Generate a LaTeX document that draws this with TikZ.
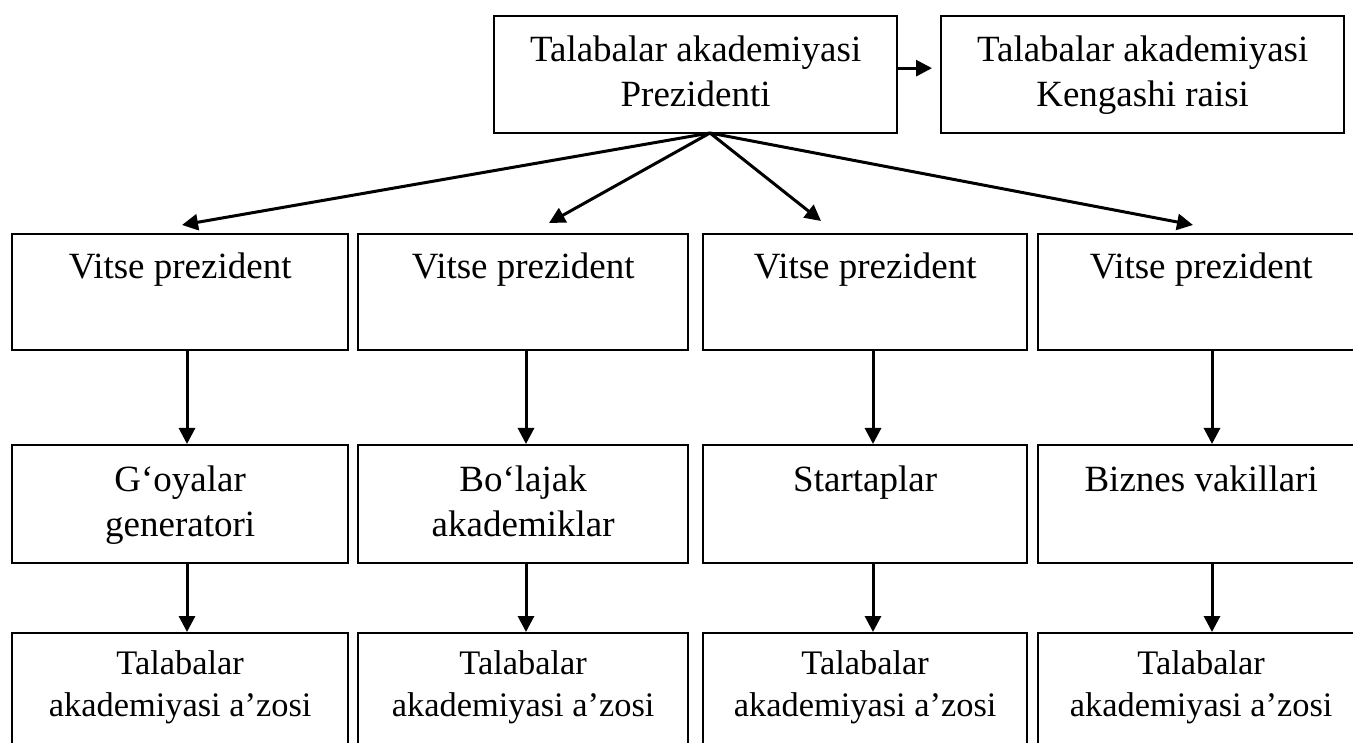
\documentclass[tikz,border=0pt]{standalone}
\usepackage{fontspec}
\setmainfont{Liberation Serif}
\usetikzlibrary{arrows.meta}
\tikzset{
  box/.style={draw, line width=2.3pt, inner sep=0pt, anchor=north west},
  arr/.style={line width=3pt, -{Triangle[length=16pt,width=16pt]}},
  big/.style={font=\fontsize{37}{45}\selectfont},
  small/.style={font=\fontsize{34.4}{42.5}\selectfont},
}
\newcommand\bxn[8]{\node[box,#8] (#1) at (#2,#3) {\parbox[t][#5pt][t]{#4pt}{\centering\rule{0pt}{#6pt}#7}};}
\begin{document}
\begin{tikzpicture}[x=1pt,y=-1pt]
\useasboundingbox (0,0) rectangle (1353,743);
% top
\bxn{P}{493}{15}{403}{117}{45}{Talabalar akademiyasi\\Prezidenti}{big}
\bxn{K}{940}{15}{403}{117}{45}{Talabalar akademiyasi\\Kengashi raisi}{big}
% row 1
\bxn{v1}{11}{233}{336}{116}{44}{Vitse prezident}{big}
\bxn{v2}{357}{233}{330}{116}{44}{Vitse prezident}{big}
\bxn{v3}{702}{233}{324}{116}{44}{Vitse prezident}{big}
\bxn{v4}{1037}{233}{326}{116}{44}{Vitse prezident}{big}
% row 2
\bxn{g1}{11}{444}{336}{118}{46}{G‘oyalar\\generatori}{big}
\bxn{g2}{357}{444}{330}{118}{46}{Bo‘lajak\\akademiklar}{big}
\bxn{g3}{702}{444}{324}{118}{46}{Startaplar}{big}
\bxn{g4}{1037}{444}{326}{118}{46}{Biznes vakillari}{big}
% row 3
\bxn{m1}{11}{632}{336}{120}{41}{Talabalar\\akademiyasi a’zosi}{small}
\bxn{m2}{357}{632}{330}{120}{41}{Talabalar\\akademiyasi a’zosi}{small}
\bxn{m3}{702}{632}{324}{120}{41}{Talabalar\\akademiyasi a’zosi}{small}
\bxn{m4}{1037}{632}{326}{120}{41}{Talabalar\\akademiyasi a’zosi}{small}
% connectors
\coordinate (fan) at (710,133);
\coordinate (t1) at (182,225);
\coordinate (t2) at (549,223);
\coordinate (t3) at (821,221);
\coordinate (t4) at (1193,225);
\draw[arr] ([yshift=6.5pt]P.east) -- ([xshift=-8pt,yshift=6.5pt]K.west);
\foreach \t in {t1,t2,t3,t4} \draw[arr] (fan) -- (\t);
\draw[arr] (v1.south -| 187,0) -- (g1.north -| 187,0);
\draw[arr] (v2.south -| 526,0) -- (g2.north -| 526,0);
\draw[arr] (v3.south -| 873,0) -- (g3.north -| 873,0);
\draw[arr] (v4.south -| 1212,0) -- (g4.north -| 1212,0);
\draw[arr] (g1.south -| 187,0) -- (m1.north -| 187,0);
\draw[arr] (g2.south -| 526,0) -- (m2.north -| 526,0);
\draw[arr] (g3.south -| 873,0) -- (m3.north -| 873,0);
\draw[arr] (g4.south -| 1212,0) -- (m4.north -| 1212,0);
\end{tikzpicture}
\end{document}
